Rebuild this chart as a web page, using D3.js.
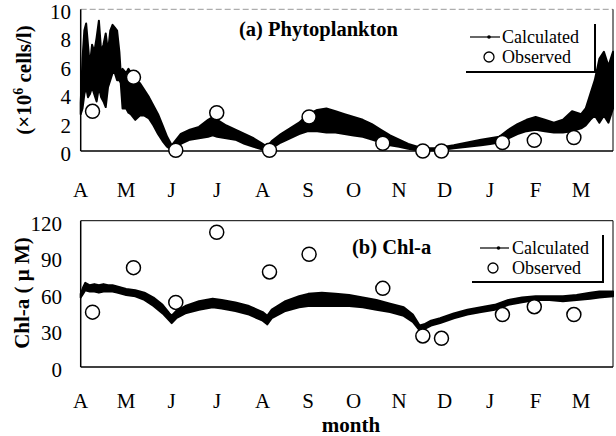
<!DOCTYPE html>
<html><head><meta charset="utf-8">
<script src="https://cdn.jsdelivr.net/npm/d3@7"></script>
<style>
body{margin:0;background:#fff}
svg{display:block}
text{font-family:"Liberation Serif","Times New Roman",serif;fill:#000}
</style></head><body>
<svg id="c" width="616" height="436"></svg>
<script>
// ---------- data ----------
const monthLabels = ["A","M","J","J","A","S","O","N","D","J","F","M"];
const phytoTicks = [0,2,4,6,8,10];
const chlTicks = [0,30,60,90,120];

// observation dates (months since 1 April)
const obsMonth = [0.26,1.16,2.09,2.99,4.15,5.02,6.64,7.52,7.93,9.27,9.97,10.84];
const phytoObs = [2.8,5.2,0.05,2.7,0.05,2.4,0.55,0.0,0.0,0.6,0.75,0.95];
const chlObs   = [45,81.5,53,110.5,78,92.5,64.5,25.5,23.5,43,49.5,43];

// calculated series envelope (low / high of the oscillating simulation)
const phytoCalcMonth = [0.00,0.04,0.08,0.12,0.16,0.20,0.25,0.30,0.35,0.40,0.45,0.50,0.55,0.60,0.65,0.70,0.75,0.80,0.85,0.88,0.92,1.00,1.05,1.10,1.20,1.30,1.40,1.50,1.60,1.70,1.80,1.90,2.00,2.10,2.20,2.40,2.60,2.80,2.90,3.00,3.20,3.40,3.60,3.80,4.00,4.10,4.20,4.40,4.60,4.80,5.00,5.20,5.40,5.60,5.80,6.00,6.20,6.40,6.60,6.80,7.00,7.20,7.40,7.60,7.80,8.00,8.20,8.50,8.80,9.00,9.20,9.40,9.60,9.80,10.00,10.20,10.40,10.60,10.80,11.00,11.10,11.20,11.30,11.40,11.50,11.60,11.70];
const phytoCalcLow  = [2.6,3.0,4.0,4.5,3.8,4.0,4.5,4.0,3.5,4.5,3.8,3.5,3.1,4.5,5.0,5.5,5.5,5.0,5.0,4.8,3.0,3.0,2.7,2.6,2.2,2.5,2.5,2.3,1.8,1.2,0.7,0.3,0.05,0.2,0.5,0.8,0.9,1.0,1.1,1.0,0.9,0.8,0.5,0.3,0.1,0.05,0.2,0.6,0.9,1.2,1.4,1.4,1.3,1.3,1.2,1.1,1.0,0.8,0.6,0.4,0.3,0.15,0.05,0.05,0.05,0.1,0.2,0.3,0.4,0.5,0.6,0.9,1.2,1.4,1.5,1.4,1.3,1.3,1.4,1.6,1.8,2.2,2.5,2.0,2.5,2.0,3.0];
const phytoCalcHigh = [3.4,6.5,8.5,9.0,7.5,6.0,7.5,7.0,8.0,9.2,7.0,7.5,8.3,7.0,8.5,8.9,8.7,8.5,7.0,5.5,5.8,5.5,5.8,5.5,5.0,4.8,4.3,3.8,3.2,2.6,1.8,1.0,0.4,0.8,1.2,1.5,1.7,2.2,2.4,2.2,1.8,1.5,1.2,0.9,0.5,0.3,0.7,1.2,1.6,2.0,2.6,2.9,3.0,2.8,2.6,2.4,2.2,1.9,1.5,1.1,0.8,0.5,0.3,0.2,0.2,0.3,0.4,0.6,0.8,0.9,1.0,1.5,1.9,2.2,2.4,2.2,2.0,2.2,2.8,2.6,3.0,4.0,5.0,6.5,7.0,6.0,7.0];

const chlCalcMonth = [0.00,0.05,0.10,0.20,0.30,0.40,0.50,0.60,0.70,0.80,0.90,1.00,1.20,1.40,1.60,1.80,1.95,2.00,2.10,2.30,2.60,2.90,3.10,3.40,3.70,4.00,4.10,4.20,4.50,4.80,5.00,5.30,5.60,5.90,6.20,6.50,6.80,7.10,7.30,7.45,7.55,7.70,7.90,8.20,8.50,8.80,9.10,9.40,9.70,10.00,10.30,10.60,10.90,11.20,11.40,11.70];
const chlCalcLow  = [57,60,63,62,62,61,62,62,62,61,60,59,58,55,50,44,38,36,40,44,47,49,48,46,43,38,35,40,46,49,50,50,50,50,49,47,45,42,37,30,31,34,36,40,43,45,47,51,53,55,55,54,55,56,57,58];
const chlCalcHigh = [60,65,69,67,68,67,68,67,67,66,65,64,63,61,57,51,44,42,46,50,54,56,55,53,50,45,42,47,54,58,60,61,60,59,57,55,52,49,43,34,35,38,40,44,47,49,51,55,57,58,58,58,59,61,62,62];

// ---------- drawing ----------
const svg = d3.select("#c");
svg.append("rect").attr("width",616).attr("height",436).attr("fill","#fff");

const x = d3.scaleLinear().domain([0, 11.7]).range([80.7, 613]);
const yA = d3.scaleLinear().domain([0, 10]).range([151, 9.3]);
const yB = d3.scaleLinear().domain([0, 120]).range([367, 220.7]);

function panel(y, ticks, tickX, calcM, lo, hi, obs, title, titleX, titleY, dashedTop, monthY, leg){
  const [y0, y1] = y.range();
  const x0 = x.range()[0], x1 = x.range()[1];
  // frame
  svg.append("line").attr("x1",x0).attr("x2",x1).attr("y1",y1).attr("y2",y1)
    .attr("stroke", dashedTop ? "#999" : "#000").attr("stroke-width",1)
    .attr("stroke-dasharray", dashedTop ? "6,3" : null);
  svg.append("line").attr("x1",x1).attr("x2",x1).attr("y1",y1).attr("y2",y0)
    .attr("stroke","#000").attr("stroke-width",1);
  // calculated band
  const area = d3.area().x((d,i)=>x(calcM[i])).y0((d,i)=>y(lo[i])).y1((d,i)=>y(hi[i]));
  svg.append("path").datum(calcM).attr("d",area).attr("fill","#000")
    .attr("stroke","#000").attr("stroke-width",2).attr("stroke-linejoin","round");
  // axes lines
  svg.append("line").attr("x1",x0).attr("x2",x0).attr("y1",y1).attr("y2",y0)
    .attr("stroke","#000").attr("stroke-width",1.5);
  svg.append("line").attr("x1",x0).attr("x2",x1).attr("y1",y0).attr("y2",y0)
    .attr("stroke","#000").attr("stroke-width",1.5);
  // observed
  svg.append("g").selectAll("circle").data(obs).join("circle")
    .attr("cx",(d,i)=>x(obsMonth[i])).attr("cy",d=>y(d)).attr("r",7)
    .attr("fill","#fff").attr("stroke","#000").attr("stroke-width",1.5);
  // y tick labels
  svg.append("g").selectAll("text").data(ticks).join("text")
    .attr("x",tickX).attr("y",d=>y(d)+2.5).attr("dy","0.35em")
    .attr("text-anchor","end").attr("font-size",21).text(d=>d);
  // month labels
  svg.append("g").selectAll("text").data(monthLabels).join("text")
    .attr("x",(d,i)=>x(i)).attr("y",monthY).attr("dy","0.35em")
    .attr("text-anchor","middle").attr("font-size",21).text(d=>d);
  // title
  svg.append("text").attr("x",titleX).attr("y",titleY).attr("dy","0.35em")
    .attr("font-size",20.5).attr("font-weight","bold").text(title);
  // legend
  svg.append("polyline")
    .attr("points",`${leg.left},${leg.bottom} ${leg.right},${leg.bottom} ${leg.right},${leg.top}`)
    .attr("fill","none").attr("stroke","#000").attr("stroke-width",2);
  svg.append("line").attr("x1",leg.lx1).attr("x2",leg.lx2).attr("y1",leg.ty1).attr("y2",leg.ty1)
    .attr("stroke","#000").attr("stroke-width",1.2);
  svg.append("circle").attr("cx",(leg.lx1+leg.lx2)/2+4).attr("cy",leg.ty1).attr("r",1.8).attr("fill","#000");
  svg.append("circle").attr("cx",leg.cx).attr("cy",leg.ty2).attr("r",5)
    .attr("fill","#fff").attr("stroke","#000").attr("stroke-width",1.3);
  svg.append("text").attr("x",leg.tx).attr("y",leg.ty1).attr("dy","0.35em").attr("font-size",18).text("Calculated");
  svg.append("text").attr("x",leg.tx).attr("y",leg.ty2).attr("dy","0.35em").attr("font-size",18).text("Observed");
}

panel(yA, phytoTicks, 71, phytoCalcMonth, phytoCalcLow, phytoCalcHigh, phytoObs,
  "(a) Phytoplankton", 239, 29, true, 190,
  {left:466, right:595, top:24, bottom:72, lx1:470, lx2:500, tx:502, ty1:37, ty2:57, cx:489});
panel(yB, chlTicks, 62, chlCalcMonth, chlCalcLow, chlCalcHigh, chlObs,
  "(b) Chl-a", 352, 247, false, 401,
  {left:472, right:603, top:235, bottom:282, lx1:480, lx2:509, tx:512, ty1:248, ty2:268, cx:493});

// y axis titles
const t1 = svg.append("text").attr("transform","translate(31,80) rotate(-90)")
  .attr("text-anchor","middle").attr("font-size",21).attr("font-weight","bold");
t1.append("tspan").text("(\u00d710");
t1.append("tspan").attr("font-size",14).attr("dy",-8).text("6");
t1.append("tspan").attr("dy",8).text(" cells/l)");
svg.append("text").attr("transform","translate(29,293) rotate(-90)")
  .attr("text-anchor","middle").attr("font-size",21).attr("font-weight","bold").text("Chl-a ( \u03bc M)");
svg.append("text").attr("x",351).attr("y",425).attr("dy","0.35em")
  .attr("text-anchor","middle").attr("font-size",21).attr("font-weight","bold").text("month");
</script></body></html>
